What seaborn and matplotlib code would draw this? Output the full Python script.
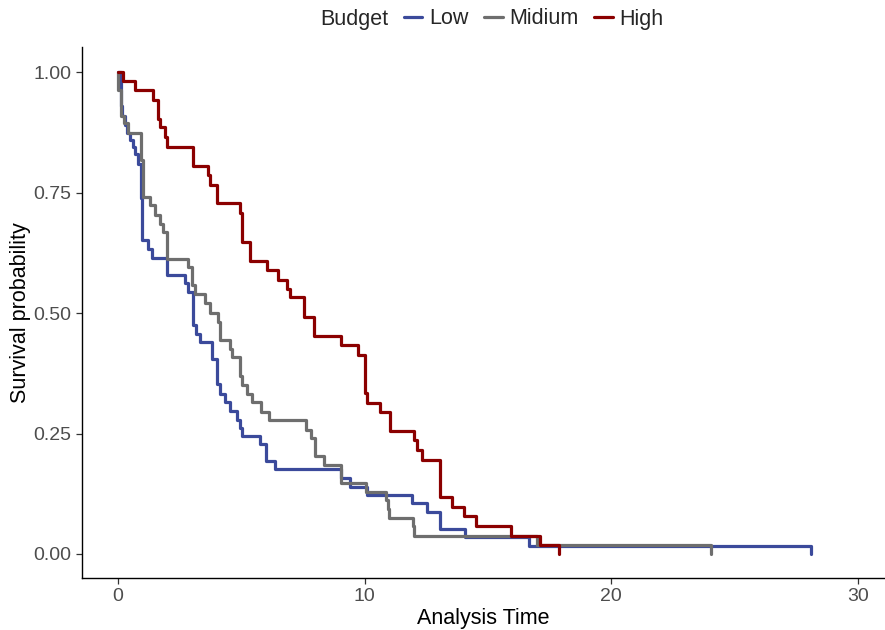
import pandas as pd
import seaborn as sns
import matplotlib.pyplot as plt

# Kaplan-Meier steps (time, survival)
low_time = [0, 0.10, 0.18, 0.28, 0.36, 0.50, 0.60, 0.70, 0.80, 0.92, 0.99, 1.22, 1.36, 2.00,
            2.71, 2.85, 3.02, 3.18, 3.32, 3.83, 4.02, 4.13, 4.33, 4.53, 4.84, 4.94, 5.03, 5.75,
            5.99, 6.36, 9.03, 9.42, 10.10, 11.93, 12.54, 13.04, 14.05, 16.65, 28.08]
low_surv = [1.0, 0.93, 0.91, 0.89, 0.875, 0.86, 0.845, 0.83, 0.81, 0.738, 0.651, 0.633, 0.615,
            0.580, 0.562, 0.544, 0.475, 0.456, 0.439, 0.405, 0.352, 0.333, 0.315, 0.297, 0.279,
            0.262, 0.245, 0.228, 0.194, 0.176, 0.157, 0.140, 0.122, 0.105, 0.088, 0.052, 0.035,
            0.017, 0.0]

mid_time = [0, 0.01, 0.10, 0.25, 0.42, 0.94, 1.02, 1.30, 1.50, 1.70, 1.83, 2.00, 2.82, 3.00,
            3.11, 3.54, 3.72, 4.05, 4.13, 4.53, 4.62, 4.94, 5.04, 5.23, 5.43, 5.81, 6.12, 7.63,
            7.83, 8.00, 8.35, 9.03, 10.07, 10.85, 10.94, 11.00, 11.95, 12.02, 17.00, 24.03]
mid_surv = [1.0, 0.964, 0.91, 0.895, 0.873, 0.817, 0.741, 0.724, 0.703, 0.686, 0.669, 0.613,
            0.595, 0.558, 0.539, 0.520, 0.501, 0.482, 0.445, 0.425, 0.408, 0.369, 0.351, 0.333,
            0.315, 0.295, 0.278, 0.257, 0.240, 0.203, 0.185, 0.148, 0.129, 0.112, 0.093, 0.074,
            0.057, 0.037, 0.018, 0.0]

high_time = [0, 0.20, 0.70, 1.43, 1.60, 1.70, 1.90, 2.00, 3.04, 3.65, 3.72, 4.02, 4.94, 5.02,
             5.34, 6.02, 6.49, 6.87, 6.99, 7.54, 7.93, 9.03, 9.75, 10.03, 10.10, 10.63, 11.04,
             12.02, 12.11, 12.33, 13.04, 13.54, 14.03, 14.50, 15.93, 17.12, 17.87]
high_surv = [1.0, 0.982, 0.963, 0.943, 0.904, 0.886, 0.866, 0.845, 0.806, 0.786, 0.767, 0.728,
             0.708, 0.648, 0.609, 0.589, 0.569, 0.551, 0.533, 0.492, 0.452, 0.433, 0.413, 0.335,
             0.314, 0.295, 0.256, 0.237, 0.216, 0.196, 0.119, 0.098, 0.079, 0.059, 0.038, 0.019,
             0.0]

groups = ["Low", "Midium", "High"]
colors = ["#3B4A9B", "#6E6E6E", "#8B0000"]

df = pd.concat([
    pd.DataFrame({"time": low_time, "surv": low_surv, "Budget": "Low"}),
    pd.DataFrame({"time": mid_time, "surv": mid_surv, "Budget": "Midium"}),
    pd.DataFrame({"time": high_time, "surv": high_surv, "Budget": "High"}),
], ignore_index=True)

sns.set_style("ticks")
plt.rcParams["font.family"] = ["Liberation Sans", "DejaVu Sans"]

fig = plt.figure(figsize=(8.85, 6.3), dpi=100)
ax = fig.add_axes([0.0927, 0.0825, 0.9073, 0.8425])

sns.lineplot(data=df, x="time", y="surv", hue="Budget", hue_order=groups,
             palette=colors, drawstyle="steps-post", estimator=None, sort=False,
             linewidth=2.3, ax=ax)

ax.set_xlim(-1.46, 31.1)
ax.set_ylim(-0.05, 1.052)
ax.set_xticks([0, 10, 20, 30])
ax.set_yticks([0, 0.25, 0.5, 0.75, 1.0])
ax.set_yticklabels(["0.00", "0.25", "0.50", "0.75", "1.00"])
ax.set_xlabel("Analysis Time", fontsize=15.5, color="black", labelpad=2)
ax.set_ylabel("Survival probability", fontsize=15.5, color="black", labelpad=2)
ax.tick_params(labelsize=14, labelcolor="#4D4D4D", color="#333333", length=4, width=0.9)
for s in ["top", "right"]:
    ax.spines[s].set_visible(False)
for s in ["left", "bottom"]:
    ax.spines[s].set_color("black")
    ax.spines[s].set_linewidth(1.0)

handles, labels = ax.get_legend_handles_labels()
ax.get_legend().remove()
fig.text(320 / 885, 1 - 19 / 630, "Budget", fontsize=15.5, va="center", ha="left")
fig.legend(handles, labels, loc="center left", bbox_to_anchor=(404 / 885, 1 - 19 / 630),
           ncol=3, frameon=False, fontsize=15.5, handlelength=0.85, handletextpad=0.3,
           columnspacing=0.75, borderpad=0, borderaxespad=0)

fig.savefig("out.png", dpi=100)
